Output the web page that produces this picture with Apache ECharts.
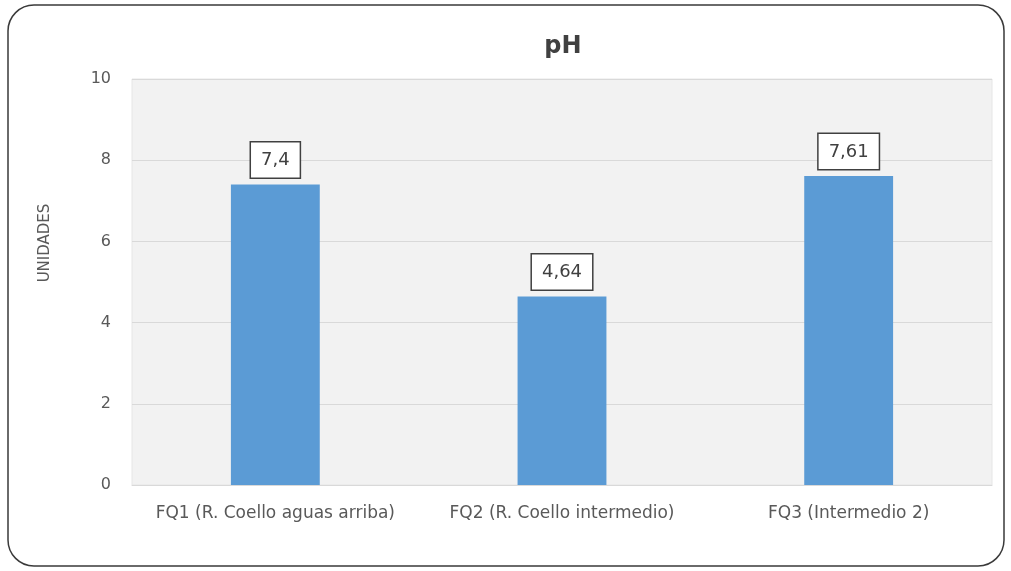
<!DOCTYPE html>
<html>
<head>
<meta charset="utf-8">
<script src="https://cdn.jsdelivr.net/npm/echarts@6/dist/echarts.min.js"></script>
<style>
html,body{margin:0;padding:0;background:#fff;}
#chart{width:1011px;height:571px;}
</style>
</head>
<body>
<div id="chart"></div>
<script>
// datos del grafico
var categorias = ['FQ1 (R. Coello aguas arriba)', 'FQ2 (R. Coello intermedio)', 'FQ3 (Intermedio 2)'];
var valoresPH = [7.4, 4.64, 7.61];
var ticksY = [0, 2, 4, 6, 8, 10];

var chart = echarts.init(document.getElementById('chart'));
var option = {
	backgroundColor: '#ffffff',
	animation: false,
	textStyle: { fontFamily: 'DejaVu Sans' },
	title: {
		text: 'pH',
		left: 558,
		top: 30,
		textAlign: 'center',
		textStyle: { fontSize: 24, fontWeight: 'bold', color: '#404040', fontFamily: 'DejaVu Sans' }
	},
	graphic: [
		{
			type: 'rect',
			shape: { x: 8, y: 5, width: 996, height: 561, r: 26 },
			style: { fill: 'none', stroke: '#3a3a3a', lineWidth: 1.5 },
			z: -1
		},
		{
			type: 'text',
			x: 45,
			y: 243,
			rotation: Math.PI / 2,
			style: {
				text: 'UNIDADES',
				fill: '#595959',
				font: '15px "DejaVu Sans"',
				align: 'center',
				verticalAlign: 'middle'
			}
		}
	],
	grid: {
		left: 132,
		right: 19,
		top: 79,
		bottom: 86,
		show: true,
		backgroundColor: '#f2f2f2',
		borderColor: '#e6e6e6',
		borderWidth: 1
	},
	xAxis: {
		type: 'category',
		data: categorias,
		axisTick: { show: false },
		axisLine: { lineStyle: { color: '#d9d9d9', width: 1 } },
		axisLabel: { color: '#595959', fontSize: 17, margin: 20, interval: 0 }
	},
	yAxis: {
		type: 'value',
		min: ticksY[0],
		max: ticksY[ticksY.length - 1],
		interval: 2,
		axisLine: { show: false },
		axisTick: { show: false },
		axisLabel: { color: '#595959', fontSize: 16, margin: 21 },
		splitLine: { lineStyle: { color: '#d9d9d9', width: 1 } }
	},
	series: [{
		type: 'bar',
		data: valoresPH,
		barWidth: '31%',
		itemStyle: { color: '#5b9bd5' },
		label: {
			show: true,
			position: 'top',
			distance: 7,
			color: '#404040',
			fontSize: 18,
			lineHeight: 20,
			backgroundColor: '#ffffff',
			borderColor: '#404040',
			borderWidth: 1.5,
			padding: [8, 10, 7, 10],
			formatter: function (p) {
				return String(p.value).replace('.', ',');
			}
		}
	}]
};
chart.setOption(option);
</script>
</body>
</html>
